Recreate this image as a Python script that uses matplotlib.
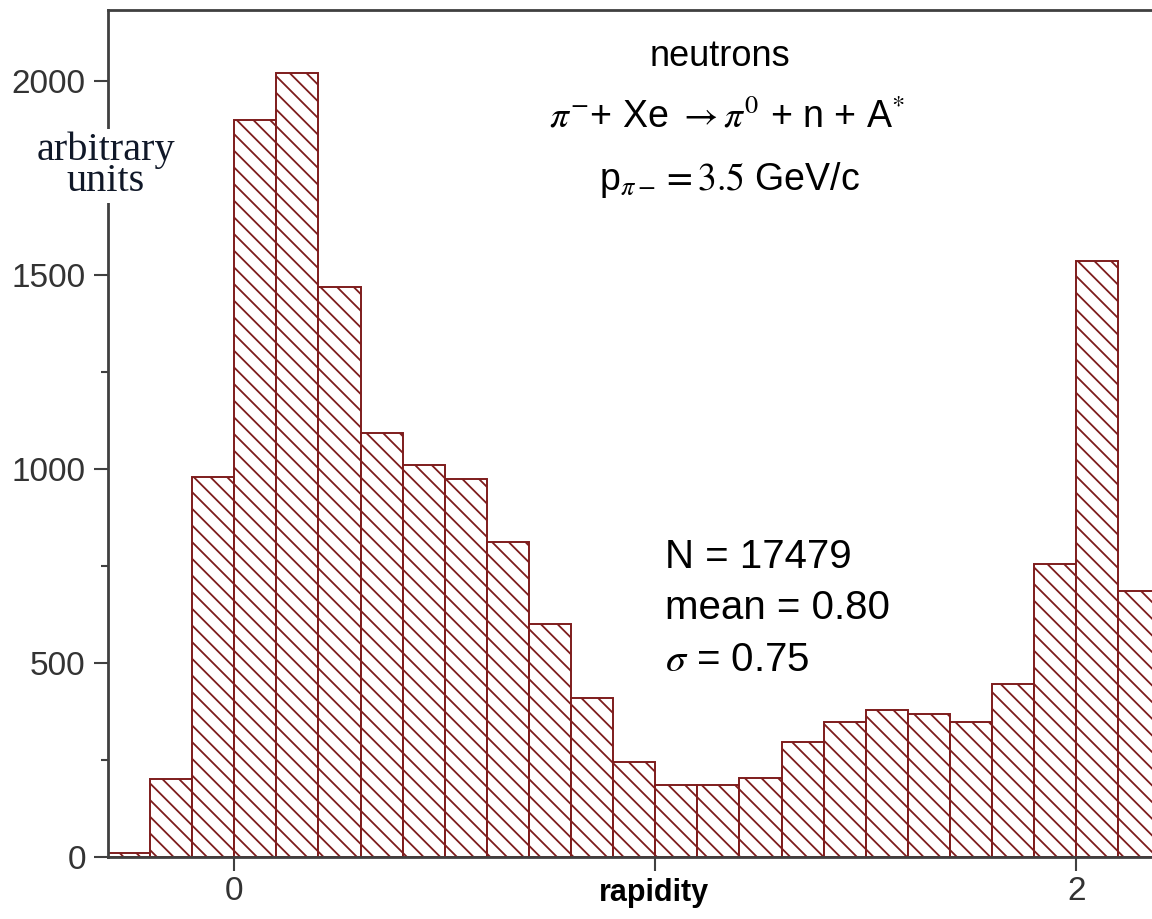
import matplotlib
matplotlib.use("Agg")
import matplotlib.pyplot as plt
from matplotlib.ticker import MultipleLocator

# histogram of neutron rapidity, bins of 0.1
bin_edges = [-0.3, -0.2, -0.1, 0.0, 0.1, 0.2, 0.3, 0.4, 0.5, 0.6, 0.7, 0.8,
             0.9, 1.0, 1.1, 1.2, 1.3, 1.4, 1.5, 1.6, 1.7, 1.8, 1.9, 2.0, 2.1, 2.2]
counts = [10, 200, 980, 1900, 2020, 1468, 1092, 1010, 973, 811, 600, 410,
          246, 186, 186, 203, 296, 347, 378, 368, 347, 446, 755, 1535, 685]

x_ticks = [0, 1, 2]
x_tick_labels = ["0", "", "2"]
y_ticks = [0, 500, 1000, 1500, 2000]

plt.rcParams["font.family"] = ["Liberation Sans", "DejaVu Sans"]
plt.rcParams["mathtext.fontset"] = "stix"
plt.rcParams["hatch.linewidth"] = 1.3

W, H = 1152, 919
fig = plt.figure(figsize=(W / 100, H / 100), dpi=100)
ax = fig.add_axes([108 / W, 62 / H, 1 - 108 / W, (857 - 10) / H])

bar_color = "#7e1c1c"
widths = [bin_edges[i + 1] - bin_edges[i] for i in range(len(counts))]
ax.bar(bin_edges[:-1], counts, width=widths, align="edge", facecolor="white",
       edgecolor=bar_color, hatch="\\\\", linewidth=1.4, zorder=2)

ax.set_xlim(-0.3, (W - 232) / 422)
ax.set_ylim(0, 2183)

ax.set_xticks(x_ticks)
ax.set_xticklabels(x_tick_labels)
ax.set_yticks(y_ticks)
ax.yaxis.set_minor_locator(MultipleLocator(250))

spine_col = "#404040"
for side in ["left", "bottom", "top"]:
    ax.spines[side].set_linewidth(2)
    ax.spines[side].set_color(spine_col)
    ax.spines[side].set_zorder(3)
ax.spines["right"].set_visible(False)

ax.tick_params(axis="both", which="major", direction="out", length=10, width=1.5,
               color=spine_col, labelsize=24, labelcolor="#333333")
ax.tick_params(axis="y", which="major", pad=6)
ax.tick_params(axis="x", which="major", pad=4)
ax.tick_params(axis="y", which="minor", direction="out", length=5, width=1.5,
               color=spine_col)


def fx(px):
    return px / W


def fy(py):
    return 1 - py / H


fig.text(fx(654), fy(893), "rapidity", fontsize=22, fontweight="bold",
         ha="center", va="center")

fig.text(fx(106), fy(166), "arbitrary\nunits", family=["Liberation Serif"],
         fontsize=29, color="#101828", ha="center", va="center",
         linespacing=0.8,
         bbox=dict(facecolor="white", edgecolor="none", pad=2))

fig.text(fx(720), fy(56), "neutrons", fontsize=26, ha="center", va="center")
fig.text(fx(727), fy(117), r"$\pi^{-}$+ Xe $\rightarrow \pi^{0}$ + n + A$^{*}$",
         fontsize=27, ha="center", va="center")
fig.text(fx(730), fy(180), r"p$_{\pi-}$$\mathrm{= 3.5}$ GeV/c",
         fontsize=27, ha="center", va="center")

fig.text(fx(665), fy(557), "N = 17479", fontsize=29, ha="left", va="center")
fig.text(fx(665), fy(608), "mean = 0.80", fontsize=29, ha="left", va="center")
fig.text(fx(665), fy(660), r"$\sigma$ = 0.75", fontsize=29, ha="left", va="center")

fig.savefig("out.png", dpi=100)
